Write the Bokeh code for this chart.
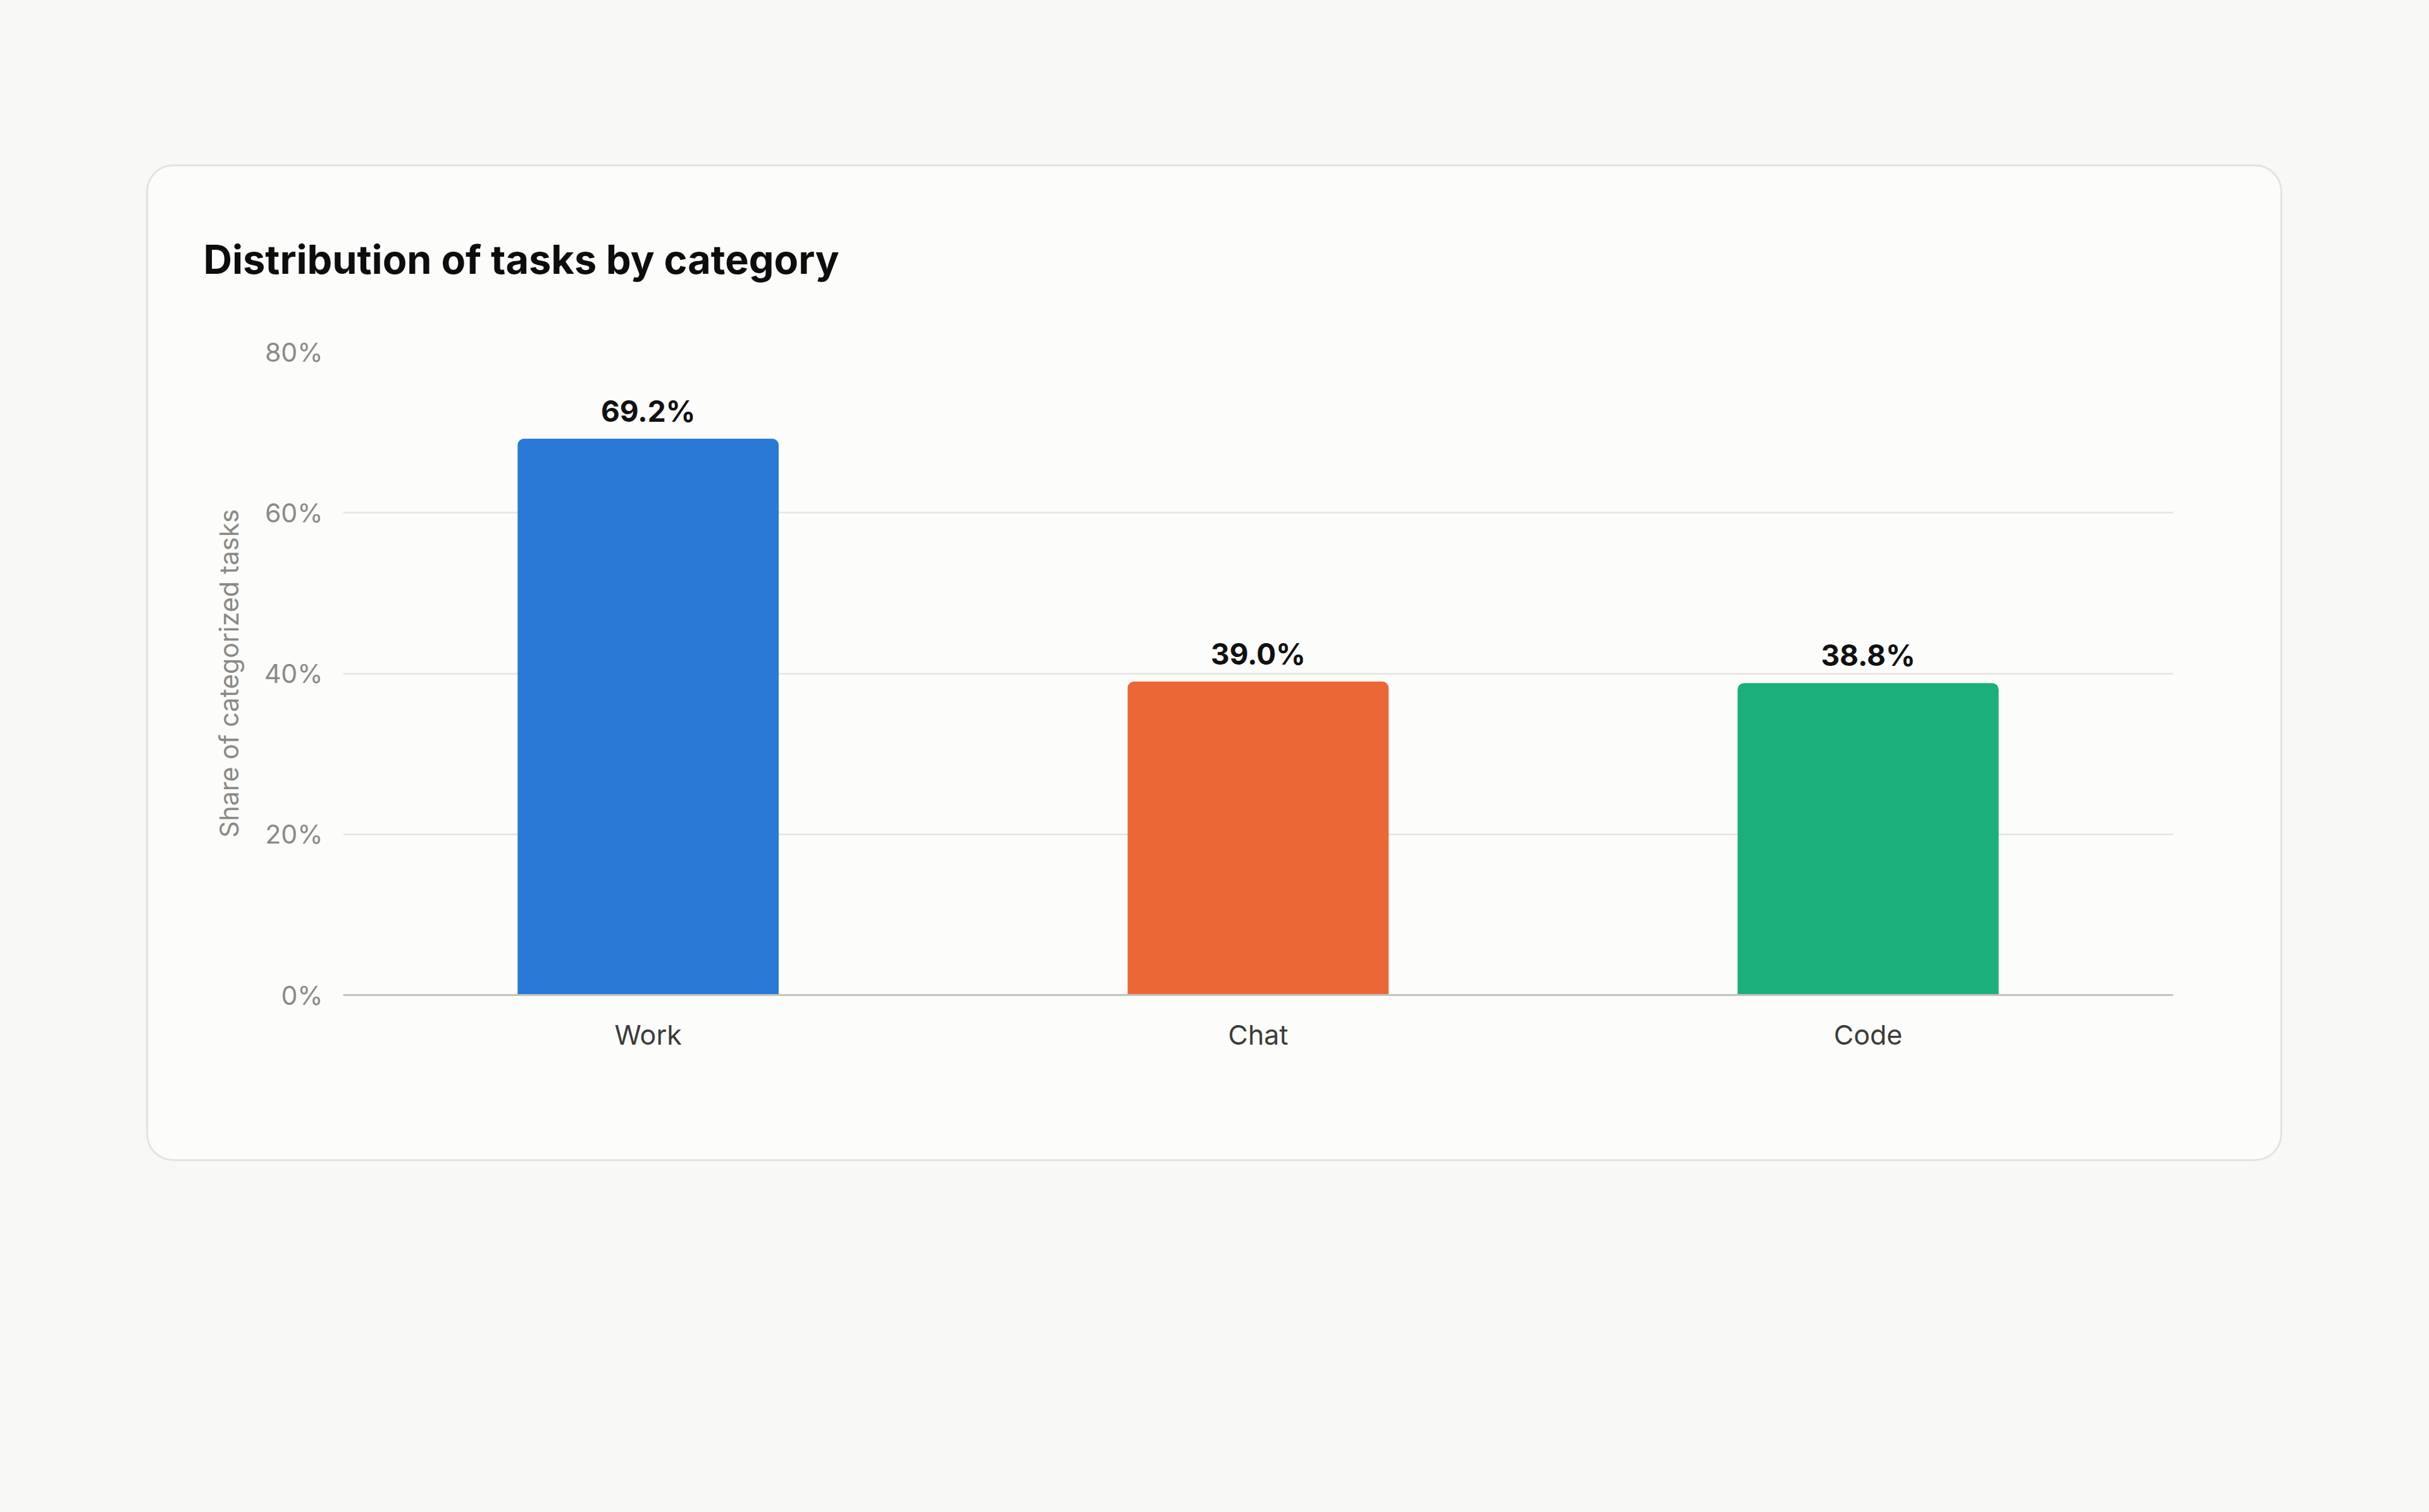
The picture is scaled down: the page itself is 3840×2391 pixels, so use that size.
from bokeh.plotting import figure
from bokeh.models import FactorRange, Range1d, FixedTicker, PrintfTickFormatter, Title, ColumnDataSource, Spacer
from bokeh.layouts import column, row
from bokeh.core.properties import value
from bokeh.embed import file_html
from bokeh.resources import INLINE

# ---- data ----
categories = ["Work", "Chat", "Code"]
shares = [69.2, 39.0, 38.8]
value_labels = ["69.2%", "39.0%", "38.8%"]
bar_colors = ["#2979D6", "#EB6836", "#1BB07B"]
y_ticks = [0, 20, 40, 60, 80]
title_text = "Distribution of tasks by category"
y_label = "Share of categorized tasks"

# ---- style ----
FONT = "Inter"
PAGE_BG = "#F8F8F7"
CARD_BG = "#FCFCFB"
CARD_W, CARD_H = 3371, 1570

src = ColumnDataSource(dict(cat=categories, val=shares, color=bar_colors, lab=value_labels))

p = figure(x_range=FactorRange(*categories, range_padding=0), y_range=Range1d(0, 80),
           width=CARD_W, height=CARD_H, output_backend="svg", toolbar_location=None,
           min_border_left=308, min_border_right=170, min_border_top=293, min_border_bottom=260)

p.vbar(x="cat", top="val", bottom=0, width=0.428, fill_color="color", line_color=None,
       source=src, border_radius=(10, 10, 0, 0))
p.text(x="cat", y="val", text="lab", source=src, text_align="center", text_baseline="alphabetic",
       y_offset=-44, text_font=value(FONT), text_font_style="bold", text_font_size="46px",
       text_color="#111111")

p.yaxis.ticker = FixedTicker(ticks=y_ticks)
p.yaxis.formatter = PrintfTickFormatter(format="%d%%")
p.yaxis.axis_line_color = None
p.yaxis.major_tick_line_color = None
p.yaxis.minor_tick_line_color = None
p.yaxis.major_label_text_font = FONT
p.yaxis.major_label_text_font_size = "41px"
p.yaxis.major_label_text_color = "#8A8A86"
p.yaxis.major_label_standoff = 26
p.yaxis.axis_label = y_label
p.yaxis.axis_label_text_font = FONT
p.yaxis.axis_label_text_font_size = "41px"
p.yaxis.axis_label_text_font_style = "normal"
p.yaxis.axis_label_text_color = "#8A8A86"
p.yaxis.axis_label_standoff = 28

p.xaxis.axis_line_color = "#C4C4BD"
p.xaxis.axis_line_width = 3
p.xaxis.major_tick_line_color = None
p.xaxis.minor_tick_line_color = None
p.xaxis.major_label_text_font = FONT
p.xaxis.major_label_text_font_size = "43px"
p.xaxis.major_label_text_color = "#3C3C3A"
p.xaxis.major_label_standoff = 30

p.xgrid.grid_line_color = None
p.ygrid.grid_line_color = "#E3E3E0"
p.ygrid.grid_line_width = 2.5

p.outline_line_color = None
p.background_fill_color = CARD_BG
p.border_fill_color = CARD_BG
p.styles = {"border-radius": "40px", "overflow": "hidden", "box-shadow": "0 0 0 3px #E3E3E1"}

p.add_layout(Title(text=title_text, align="left", vertical_align="top", offset=-221, standoff=214,
                   text_font=FONT, text_font_size="63px", text_font_style="bold",
                   text_color="#0D0D0D"), "above")

layout = column(Spacer(height=263), row(Spacer(width=234), p))

html = file_html(layout, INLINE)
html = html.replace("</head>", "<style>html,body{background:%s;}</style></head>" % PAGE_BG, 1)
open("out.html", "w").write(html)
